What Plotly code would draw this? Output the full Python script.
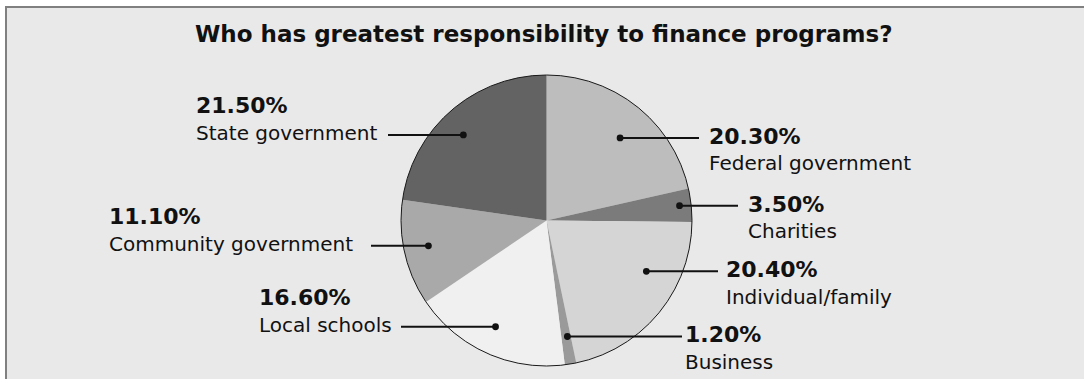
import math
import plotly.graph_objects as go

W, H = 1084, 379

# Survey shares, in clockwise order starting at 12 o'clock
labels = ["Federal government", "Charities", "Individual/family", "Business",
          "Local schools", "Community government", "State government"]
values = [20.3, 3.5, 20.4, 1.2, 16.6, 11.1, 21.5]
pct_text = ["20.30%", "3.50%", "20.40%", "1.20%", "16.60%", "11.10%", "21.50%"]
slice_colors = ["#bdbdbd", "#7b7b7b", "#d5d5d5", "#9a9a9a",
                "#f0f0f0", "#a9a9a9", "#636363"]

# Pie placement (pixels from the top-left corner of the figure)
CX, CY, R = 546.5, 220.5, 145.5

# Callout style per slice: where the dot sits (fraction through the slice,
# fraction of radius), which side the label is on, where the leader line
# stops and where the text begins.
callouts = [
    dict(along=0.54, rad=0.76, side="right", line_x=699, text_x=707),
    dict(along=0.48, rad=0.92, side="right", line_x=738, text_x=746),
    dict(along=0.34, rad=0.77, side="right", line_x=718, text_x=724),
    dict(along=0.35, rad=0.81, side="right", line_x=682, text_x=683),
    dict(along=0.52, rad=0.81, side="left", line_x=401, text_x=257),
    dict(along=0.52, rad=0.83, side="left", line_x=371, text_x=107),
    dict(along=0.46, rad=0.82, side="left", line_x=388, text_x=194),
]

BG = "#e9e9e9"
RULE = "#808080"
INK = "#111111"
FONT = "DejaVu Sans"

fig = go.Figure()

# Invisible trace so the pixel-scaled helper axes exist
fig.add_trace(go.Scatter(x=[], y=[], hoverinfo="skip", showlegend=False))

dom_x = [(CX - R) / W, (CX + R) / W]
dom_y = [(H - CY - R) / H, (H - CY + R) / H]

fig.add_trace(go.Pie(
    labels=labels, values=values, sort=False, direction="clockwise", rotation=0,
    marker=dict(colors=slice_colors, line=dict(width=0)),
    textinfo="none", hoverinfo="label+percent", showlegend=False,
    domain=dict(x=dom_x, y=dom_y),
))
# Thin outline round the whole pie
fig.add_trace(go.Pie(
    labels=["outline"], values=[1], sort=False,
    marker=dict(colors=["rgba(0,0,0,0)"], line=dict(color="#1a1a1a", width=1)),
    textinfo="none", hoverinfo="skip", showlegend=False,
    domain=dict(x=dom_x, y=dom_y),
))

shapes = [
    # panel background
    dict(type="rect", xref="paper", yref="paper", x0=6 / W, y0=0, x1=1, y1=1 - 7 / H,
         fillcolor=BG, line=dict(width=0), layer="below"),
    # gray rules along the top and left of the panel
    dict(type="line", xref="paper", yref="paper", x0=5 / W, x1=1,
         y0=1 - 7 / H, y1=1 - 7 / H, line=dict(color=RULE, width=2), layer="below"),
    dict(type="line", xref="paper", yref="paper", x0=6 / W, x1=6 / W,
         y0=0, y1=1 - 6 / H, line=dict(color=RULE, width=2), layer="below"),
]
annotations = [
    dict(text="<b>Who has greatest responsibility to finance programs?</b>",
         x=544, y=33.5, xref="x", yref="y", xanchor="center", yanchor="middle",
         showarrow=False, font=dict(family=FONT, size=23, color=INK)),
]

total = sum(values)
start = 0.0
for lab, val, pct, co in zip(labels, values, pct_text, callouts):
    span = val / total * 360.0
    theta = math.radians(start + co["along"] * span)
    start += span
    r = co["rad"] * R
    dx = CX + r * math.sin(theta)
    dy = CY - r * math.cos(theta)

    shapes.append(dict(type="line", xref="x", yref="y", x0=dx, y0=dy,
                       x1=co["line_x"], y1=dy, layer="above",
                       line=dict(color=INK, width=2)))
    shapes.append(dict(type="circle", xref="x", yref="y",
                       x0=dx - 3.4, x1=dx + 3.4, y0=dy - 3.4, y1=dy + 3.4,
                       fillcolor=INK, line=dict(width=0), layer="above"))

    if co["side"] == "right":
        pct_y, name_y = dy - 1.5, dy + 25.5
    else:
        name_y = dy - 2
        pct_y = name_y - 27.5

    annotations.append(dict(text=f"<b>{pct}</b>", x=co["text_x"], y=pct_y,
                            xref="x", yref="y", xanchor="left", yanchor="middle",
                            showarrow=False,
                            font=dict(family=FONT, size=22, color=INK)))
    annotations.append(dict(text=lab, x=co["text_x"], y=name_y,
                            xref="x", yref="y", xanchor="left", yanchor="middle",
                            showarrow=False,
                            font=dict(family=FONT, size=20, color=INK)))

fig.update_layout(
    width=W, height=H,
    margin=dict(l=0, r=0, t=0, b=0, pad=0),
    paper_bgcolor="white", plot_bgcolor="rgba(0,0,0,0)",
    xaxis=dict(range=[0, W], visible=False, fixedrange=True, domain=[0, 1]),
    yaxis=dict(range=[H, 0], visible=False, fixedrange=True, domain=[0, 1]),
    shapes=shapes, annotations=annotations,
    showlegend=False,
)

fig.write_html("out.html")
